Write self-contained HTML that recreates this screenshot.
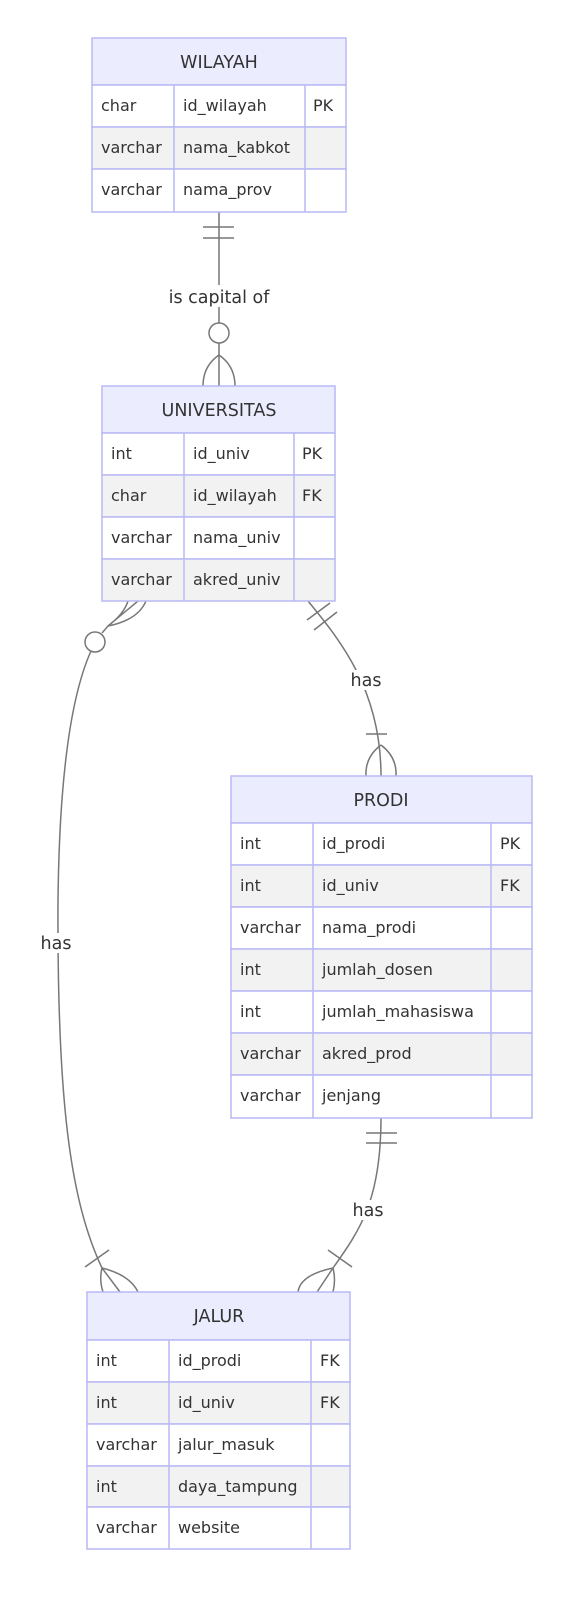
<!DOCTYPE html>
<html><head><meta charset="utf-8"><style>
html,body{margin:0;padding:0;background:#fff;}
svg{display:block;}
text{font-family:"DejaVu Sans","Liberation Sans",sans-serif;fill:#333;}
.t{font-size:17.5px;text-anchor:middle;}
.r{font-size:16px;}
.l{font-size:17.5px;text-anchor:middle;}
.e{fill:none;stroke:#777;stroke-width:1.5;}
.b{stroke:#b9b9f5;stroke-width:1.5;}
</style></head><body>
<svg width="570" height="1600" viewBox="0 0 570 1600" xmlns="http://www.w3.org/2000/svg">
<g class="e">
  <line x1="219" y1="212" x2="219" y2="386"/>
  <line x1="203" y1="227" x2="234" y2="227"/>
  <line x1="203" y1="238" x2="234" y2="238"/>
  <circle cx="219" cy="333" r="10" fill="#fff"/>
  <path d="M219 355 Q203 366 203 386 M219 355 Q235 366 235 386"/>
  <path d="M308 601 C340 640 381 690 381 776"/>
  <line x1="307" y1="620" x2="330" y2="603"/>
  <line x1="314" y1="630" x2="337" y2="612"/>
  <line x1="366" y1="734" x2="387" y2="734"/>
  <path d="M381 745 Q365 757 366 776 M381 745 Q397 757 396 776"/>
  <path d="M102 633 L108 626 Q124 614 128 601 M108 626 Q138 620 146 601 M108 626 L138 601"/>
  <path d="M91 651 Q60 720 58 900 C57 1100 70 1200 102 1268 L120 1292"/>
  <circle cx="95" cy="642" r="10" fill="#fff"/>
  <line x1="85" y1="1267" x2="109" y2="1250"/>
  <path d="M102 1268 Q99 1280 103 1292 M102 1268 Q130 1275 138 1292"/>
  <path d="M381 1118 C381 1200 360 1230 333 1268 L317 1292"/>
  <line x1="366" y1="1133" x2="397" y2="1133"/>
  <line x1="366" y1="1143" x2="397" y2="1143"/>
  <line x1="328" y1="1250" x2="352" y2="1267"/>
  <path d="M333 1268 Q300 1275 298 1292 M333 1268 Q336 1280 333 1292"/>
</g>
<rect x="158" y="285" width="122" height="22" fill="#fff"/>
<text class="l" x="219" y="303">is capital of</text>
<rect x="347" y="670" width="38" height="20" fill="#fff"/>
<text class="l" x="366" y="686">has</text>
<rect x="37" y="933" width="40" height="20" fill="#fff"/>
<text class="l" x="56" y="949">has</text>
<rect x="348" y="1200" width="40" height="20" fill="#fff"/>
<text class="l" x="368" y="1216">has</text>

<g>
<rect x="92" y="38" width="254" height="47" fill="#ececff" class="b"/>
<rect x="92" y="85" width="254" height="42" fill="#fff" class="b"/>
<rect x="92" y="127" width="254" height="42" fill="#f2f2f2" class="b"/>
<rect x="92" y="169" width="254" height="43" fill="#fff" class="b"/>
<line x1="174" y1="85" x2="174" y2="212" class="b"/>
<line x1="305" y1="85" x2="305" y2="212" class="b"/>
<text class="t" x="219" y="68">WILAYAH</text>
<text class="r" x="101" y="111">char</text><text class="r" x="183" y="111">id_wilayah</text><text class="r" x="313" y="111">PK</text>
<text class="r" x="101" y="153">varchar</text><text class="r" x="183" y="153">nama_kabkot</text>
<text class="r" x="101" y="195">varchar</text><text class="r" x="183" y="195">nama_prov</text>
</g>

<g>
<rect x="102" y="386" width="233" height="47" fill="#ececff" class="b"/>
<rect x="102" y="433" width="233" height="42" fill="#fff" class="b"/>
<rect x="102" y="475" width="233" height="42" fill="#f2f2f2" class="b"/>
<rect x="102" y="517" width="233" height="42" fill="#fff" class="b"/>
<rect x="102" y="559" width="233" height="42" fill="#f2f2f2" class="b"/>
<line x1="184" y1="433" x2="184" y2="601" class="b"/>
<line x1="294" y1="433" x2="294" y2="601" class="b"/>
<text class="t" x="219" y="416">UNIVERSITAS</text>
<text class="r" x="111" y="459">int</text><text class="r" x="193" y="459">id_univ</text><text class="r" x="302" y="459">PK</text>
<text class="r" x="111" y="501">char</text><text class="r" x="193" y="501">id_wilayah</text><text class="r" x="302" y="501">FK</text>
<text class="r" x="111" y="543">varchar</text><text class="r" x="193" y="543">nama_univ</text>
<text class="r" x="111" y="585">varchar</text><text class="r" x="193" y="585">akred_univ</text>
</g>

<g>
<rect x="231" y="776" width="301" height="47" fill="#ececff" class="b"/>
<rect x="231" y="823" width="301" height="42" fill="#fff" class="b"/>
<rect x="231" y="865" width="301" height="42" fill="#f2f2f2" class="b"/>
<rect x="231" y="907" width="301" height="42" fill="#fff" class="b"/>
<rect x="231" y="949" width="301" height="42" fill="#f2f2f2" class="b"/>
<rect x="231" y="991" width="301" height="42" fill="#fff" class="b"/>
<rect x="231" y="1033" width="301" height="42" fill="#f2f2f2" class="b"/>
<rect x="231" y="1075" width="301" height="43" fill="#fff" class="b"/>
<line x1="313" y1="823" x2="313" y2="1118" class="b"/>
<line x1="491" y1="823" x2="491" y2="1118" class="b"/>
<text class="t" x="381" y="806">PRODI</text>
<text class="r" x="240" y="849">int</text><text class="r" x="322" y="849">id_prodi</text><text class="r" x="500" y="849">PK</text>
<text class="r" x="240" y="891">int</text><text class="r" x="322" y="891">id_univ</text><text class="r" x="500" y="891">FK</text>
<text class="r" x="240" y="933">varchar</text><text class="r" x="322" y="933">nama_prodi</text>
<text class="r" x="240" y="975">int</text><text class="r" x="322" y="975">jumlah_dosen</text>
<text class="r" x="240" y="1017">int</text><text class="r" x="322" y="1017">jumlah_mahasiswa</text>
<text class="r" x="240" y="1059">varchar</text><text class="r" x="322" y="1059">akred_prod</text>
<text class="r" x="240" y="1101">varchar</text><text class="r" x="322" y="1101">jenjang</text>
</g>

<g>
<rect x="87" y="1292" width="263" height="48" fill="#ececff" class="b"/>
<rect x="87" y="1340" width="263" height="42" fill="#fff" class="b"/>
<rect x="87" y="1382" width="263" height="42" fill="#f2f2f2" class="b"/>
<rect x="87" y="1424" width="263" height="42" fill="#fff" class="b"/>
<rect x="87" y="1466" width="263" height="41" fill="#f2f2f2" class="b"/>
<rect x="87" y="1507" width="263" height="42" fill="#fff" class="b"/>
<line x1="169" y1="1340" x2="169" y2="1549" class="b"/>
<line x1="311" y1="1340" x2="311" y2="1549" class="b"/>
<text class="t" x="219" y="1322">JALUR</text>
<text class="r" x="96" y="1366">int</text><text class="r" x="178" y="1366">id_prodi</text><text class="r" x="320" y="1366">FK</text>
<text class="r" x="96" y="1408">int</text><text class="r" x="178" y="1408">id_univ</text><text class="r" x="320" y="1408">FK</text>
<text class="r" x="96" y="1450">varchar</text><text class="r" x="178" y="1450">jalur_masuk</text>
<text class="r" x="96" y="1492">int</text><text class="r" x="178" y="1492">daya_tampung</text>
<text class="r" x="96" y="1533">varchar</text><text class="r" x="178" y="1533">website</text>
</g>
</svg>
</body></html>
